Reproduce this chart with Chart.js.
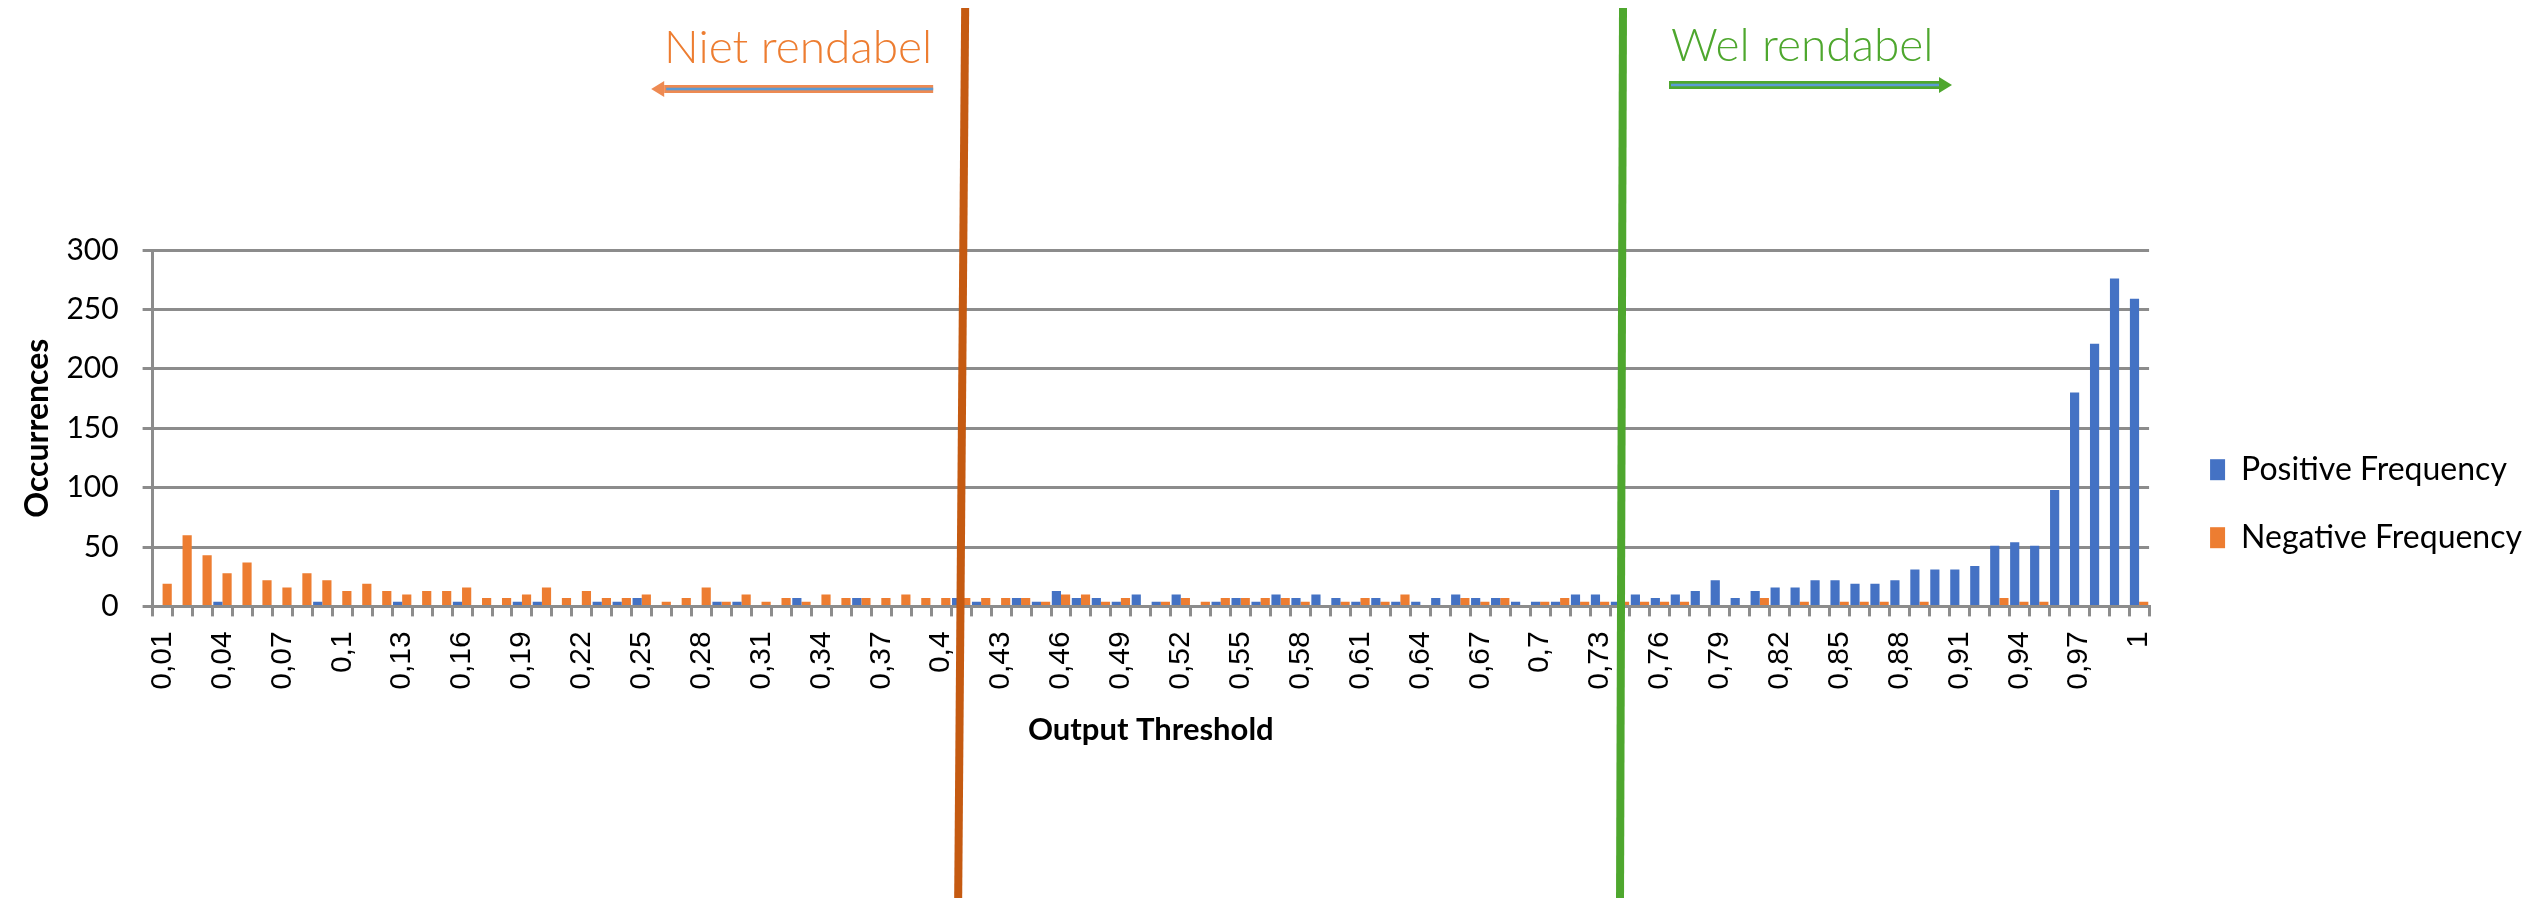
<!DOCTYPE html>
<html>
<head>
<meta charset="utf-8">
<title>Output Threshold</title>
<script src="https://cdn.jsdelivr.net/npm/chart.js@4.4.0/dist/chart.umd.min.js"></script>
<style>
  html, body { margin: 0; padding: 0; background: #ffffff; }
  #wrap { width: 2539px; height: 898px; position: relative; }
</style>
</head>
<body>
<div id="wrap"><canvas id="myChart"></canvas></div>
<script>
// Categories (output threshold 0,01 .. 1)
var categories = [
  "0,01", "0,02", "0,03", "0,04", "0,05", "0,06", "0,07", "0,08", "0,09", "0,1",
  "0,11", "0,12", "0,13", "0,14", "0,15", "0,16", "0,17", "0,18", "0,19", "0,2",
  "0,21", "0,22", "0,23", "0,24", "0,25", "0,26", "0,27", "0,28", "0,29", "0,3",
  "0,31", "0,32", "0,33", "0,34", "0,35", "0,36", "0,37", "0,38", "0,39", "0,4",
  "0,41", "0,42", "0,43", "0,44", "0,45", "0,46", "0,47", "0,48", "0,49", "0,5",
  "0,51", "0,52", "0,53", "0,54", "0,55", "0,56", "0,57", "0,58", "0,59", "0,6",
  "0,61", "0,62", "0,63", "0,64", "0,65", "0,66", "0,67", "0,68", "0,69", "0,7",
  "0,71", "0,72", "0,73", "0,74", "0,75", "0,76", "0,77", "0,78", "0,79", "0,8",
  "0,81", "0,82", "0,83", "0,84", "0,85", "0,86", "0,87", "0,88", "0,89", "0,9",
  "0,91", "0,92", "0,93", "0,94", "0,95", "0,96", "0,97", "0,98", "0,99", "1"
];

// Positive Frequency (blue)
var positive = [
  0, 0, 0, 4, 0, 0, 0, 0, 4, 0,
  0, 0, 4, 0, 0, 4, 0, 0, 4, 4,
  0, 0, 4, 4, 7, 0, 0, 0, 4, 4,
  0, 0, 7, 0, 0, 7, 0, 0, 0, 0,
  7, 4, 0, 7, 4, 13, 7, 7, 4, 10,
  4, 10, 0, 4, 7, 4, 10, 7, 10, 7,
  4, 7, 4, 4, 7, 10, 7, 7, 4, 4,
  4, 10, 10, 4, 10, 7, 10, 13, 22, 7,
  13, 16, 16, 22, 22, 19, 19, 22, 31, 31,
  31, 34, 51, 54, 51, 98, 180, 221, 276, 259
];

// Negative Frequency (orange)
var negative = [
  19, 60, 43, 28, 37, 22, 16, 28, 22, 13,
  19, 13, 10, 13, 13, 16, 7, 7, 10, 16,
  7, 13, 7, 7, 10, 4, 7, 16, 4, 10,
  4, 7, 4, 10, 7, 7, 7, 10, 7, 7,
  7, 7, 7, 7, 4, 10, 10, 4, 7, 0,
  4, 7, 4, 7, 7, 7, 7, 4, 0, 4,
  7, 4, 10, 0, 0, 7, 4, 7, 0, 4,
  7, 4, 4, 4, 4, 4, 4, 0, 0, 0,
  7, 0, 4, 0, 4, 4, 4, 0, 4, 0,
  0, 0, 7, 4, 4, 0, 0, 0, 0, 4
];

var seriesNames = ["Positive Frequency", "Negative Frequency"];
var yTicks = [0, 50, 100, 150, 200, 250, 300];

// Annotation texts and where the two threshold lines stand
var nietText = "Niet rendabel";
var welText = "Wel rendabel";
var nietAt = "0,41";
var welAt = "0,74";

var gridColor = "#8c8c8c";

// draws a horizontal arrow, tip at xTip
function drawArrow(ctx, xTail, xTip, y, outer, inner) {
  var dir = xTip > xTail ? 1 : -1;
  var head = 13;
  var base = xTip - dir * head;
  ctx.fillStyle = outer;
  ctx.fillRect(Math.min(xTail, base), y - 4, Math.abs(base - xTail), 8);
  ctx.beginPath();
  ctx.moveTo(xTip, y);
  ctx.lineTo(base, y - 8);
  ctx.lineTo(base, y + 8);
  ctx.closePath();
  ctx.fill();
  ctx.fillStyle = inner;
  ctx.fillRect(Math.min(xTail, base) + 2, y - 1.3, Math.abs(base - xTail) - 2, 2.6);
}

var thresholdLines = {
  id: "thresholdLines",
  afterDraw: function (chart) {
    var ctx = chart.ctx;
    var xs = chart.scales.x;
    var h = chart.height;
    var ni = categories.indexOf(nietAt);
    var wi = categories.indexOf(welAt);
    var nTop = xs.getPixelForValue(ni + 0.2);
    var nBot = xs.getPixelForValue(ni - 0.15);
    var wTop = xs.getPixelForValue(wi + 0.15);
    var wBot = xs.getPixelForValue(wi);

    ctx.save();
    ctx.lineWidth = 8;
    ctx.strokeStyle = "#C55A11";
    ctx.beginPath();
    ctx.moveTo(nTop, 8);
    ctx.lineTo(nBot, h);
    ctx.stroke();

    ctx.strokeStyle = "#4EA72E";
    ctx.beginPath();
    ctx.moveTo(wTop, 8);
    ctx.lineTo(wBot, h);
    ctx.stroke();

    ctx.font = "300 46px Lato";
    ctx.textBaseline = "alphabetic";
    ctx.fillStyle = "#ED7D31";
    ctx.textAlign = "right";
    ctx.fillText(nietText, nTop - 33, 63);
    drawArrow(ctx, nTop - 32, nTop - 314, 89, "#EE8A52", "#5B9BD5");

    ctx.fillStyle = "#4EA72E";
    ctx.textAlign = "left";
    ctx.fillText(welText, wTop + 48, 61);
    drawArrow(ctx, wTop + 46, wTop + 329, 85, "#4EA72E", "#5B9BD5");
    ctx.restore();
  }
};

Chart.defaults.font.family = "Lato";
Chart.defaults.color = "#000000";

var myChart = document.getElementById("myChart").getContext("2d");
var chart = new Chart(myChart, {
  type: "bar",
  data: {
    labels: categories,
    datasets: [
      {
        label: seriesNames[0],
        data: positive,
        backgroundColor: "#4472C4",
        categoryPercentage: 0.92,
        barPercentage: 1.0
      },
      {
        label: seriesNames[1],
        data: negative,
        backgroundColor: "#ED7D31",
        categoryPercentage: 0.92,
        barPercentage: 1.0
      }
    ]
  },
  options: {
    responsive: true,
    maintainAspectRatio: false,
    animation: false,
    devicePixelRatio: 1,
    layout: {
      padding: { left: 18, top: 250, right: 7, bottom: 149 }
    },
    plugins: {
      tooltip: { enabled: false },
      legend: {
        position: "right",
        title: { display: true, text: " ", padding: 0, font: { size: 7 } },
        labels: {
          boxWidth: 15,
          boxHeight: 21,
          padding: 36,
          font: { size: 32 },
          color: "#000000"
        }
      }
    },
    scales: {
      x: {
        grid: {
          drawOnChartArea: false,
          drawTicks: true,
          tickLength: 10,
          color: gridColor,
          lineWidth: 3
        },
        border: { color: gridColor, width: 3 },
        ticks: {
          autoSkip: false,
          maxRotation: 90,
          minRotation: 90,
          padding: 15,
          font: { family: "Liberation Sans", size: 30 },
          color: "#000000",
          callback: function (value, index) {
            return index % 3 === 0 ? categories[index] : "";
          }
        },
        title: {
          display: true,
          text: "Output Threshold",
          font: { size: 31, weight: "bold" },
          padding: { top: 22, bottom: 0 }
        },
        // Chart.js counts tick padding twice; keep it once
        afterFit: function (scale) {
          scale.height -= scale.options.ticks.padding;
        }
      },
      y: {
        min: yTicks[0],
        max: yTicks[yTicks.length - 1],
        grid: {
          color: gridColor,
          lineWidth: 3,
          tickLength: 10
        },
        border: { color: gridColor, width: 3 },
        ticks: {
          stepSize: yTicks[1] - yTicks[0],
          padding: 24,
          font: { size: 30 },
          color: "#000000"
        },
        title: {
          display: true,
          text: "Occurrences",
          font: { size: 32, weight: "bold" },
          padding: { top: 0, bottom: 10 }
        },
        afterFit: function (scale) {
          scale.width -= scale.options.ticks.padding;
        }
      },
      spacer: {
        type: "linear",
        position: "right",
        display: true,
        grid: { display: false },
        border: { display: false },
        ticks: { display: false },
        afterFit: function (scale) {
          scale.width = 25;
        }
      }
    }
  },
  plugins: [thresholdLines]
});
</script>
</body>
</html>
